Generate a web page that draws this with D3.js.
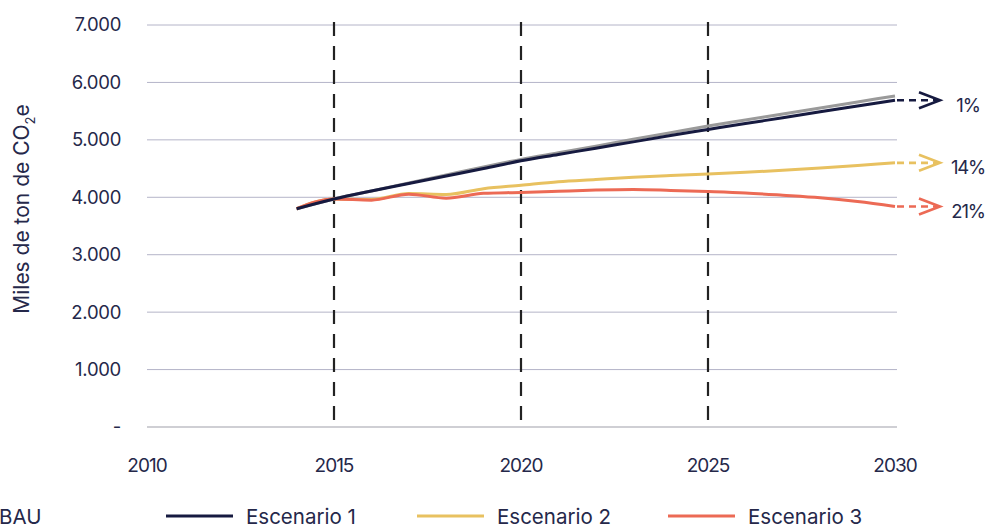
<!DOCTYPE html>
<html><head><meta charset="utf-8">
<script src="https://cdn.jsdelivr.net/npm/d3@7"></script>
<style>body{margin:0;background:#fff;}svg{display:block;font-family:Inter,"Noto Sans",sans-serif;}</style>
</head><body>
<svg id="c" width="987" height="528"></svg>
<script>
const years = [2014,2015,2016,2017,2018,2019,2020,2021,2022,2023,2024,2025,2026,2027,2028,2029,2030];
const bau   = [3800,3970,4110,4250,4390,4530,4660,4775,4890,5010,5125,5240,5345,5450,5555,5660,5765];
const esc1  = [3800,3970,4110,4240,4370,4500,4635,4745,4855,4965,5075,5180,5285,5385,5490,5590,5690];
const esc2  = [3800,3970,3960,4065,4050,4150,4210,4270,4310,4350,4380,4405,4435,4470,4510,4555,4600];
const esc3  = [3800,3970,3950,4055,3985,4070,4085,4105,4125,4135,4120,4100,4075,4035,3990,3925,3840];
const yTicks = [0,1000,2000,3000,4000,5000,6000,7000];
const xTicks = [2010,2015,2020,2025,2030];
const markYears = [2015,2020,2025];
const seriesNames = ["BAU","Escenario 1","Escenario 2","Escenario 3"];
const seriesColors = ["#9a9a9a","#161a40","#e8c160","#ec6a55"];
const reductions = ["","1%","14%","21%"];

const svg = d3.select("#c");
const x = d3.scaleLinear().domain([2010,2030]).range([147,895]);
const y = d3.scaleLinear().domain([0,7000]).range([427,25]);
const textCol = "#25284a";

// gridlines
svg.append("g").selectAll("line").data(yTicks).join("line")
  .attr("x1",147).attr("x2",897)
  .attr("y1",d=>y(d)).attr("y2",d=>y(d))
  .attr("stroke",d=>d===0?"#cfcfd4":"#b4b4c8")
  .attr("stroke-width",d=>d===0?2:1);

// y labels
const fmt = d => d===0 ? "-" : d3.format(",")(d).replace(/,/g,".");
svg.append("g").selectAll("text").data(yTicks).join("text")
  .attr("x",121).attr("y",d=>y(d)).attr("dy","0.35em")
  .attr("text-anchor","end").attr("font-size",18.5).attr("fill",textCol)
  .attr("letter-spacing","-0.3")
  .text(fmt);

// x labels
svg.append("g").selectAll("text").data(xTicks).join("text")
  .attr("x",d=>x(d)).attr("y",465).attr("dy","0.35em")
  .attr("text-anchor","middle").attr("font-size",19).attr("fill",textCol)
  .attr("letter-spacing","-1")
  .text(d=>d);

// y title
const yt = svg.append("text")
  .attr("transform","translate(29,209) rotate(-90)")
  .attr("text-anchor","middle").attr("font-size",21).attr("fill",textCol);
yt.append("tspan").text("Miles de ton de CO");
yt.append("tspan").attr("font-size",13).attr("dy",6).text("2");
yt.append("tspan").attr("dy",-6).text("e");

// vertical dashed lines
svg.append("g").selectAll("line").data(markYears).join("line")
  .attr("x1",d=>x(d)).attr("x2",d=>x(d))
  .attr("y1",22).attr("y2",427)
  .attr("stroke","#222").attr("stroke-width",2.2)
  .attr("stroke-dasharray","14,10");

// series
const data = [bau,esc1,esc2,esc3];
const line = d3.line().x((d,i)=>x(years[i])).y(d=>y(d)).curve(d3.curveMonotoneX);
const order = [0,2,3,1];
svg.append("g").selectAll("path").data(order).join("path")
  .attr("d",i=>line(data[i]))
  .attr("fill","none").attr("stroke",i=>seriesColors[i]).attr("stroke-width",3);

// arrows and reduction labels
[1,2,3].forEach(i=>{
  const yy = y(data[i][data[i].length-1]);
  const g = svg.append("g").attr("stroke",seriesColors[i]).attr("stroke-width",2.6).attr("fill","none");
  g.append("line").attr("x1",897).attr("x2",938).attr("y1",yy).attr("y2",yy).attr("stroke-dasharray","7,5");
  g.append("path").attr("d",`M${919},${yy-8}L${940},${yy}L${919},${yy+8}`);
  svg.append("text").attr("x",968).attr("y",yy+5).attr("dy","0.35em")
    .attr("text-anchor","middle").attr("font-size",18.5).attr("fill",textCol)
    .attr("letter-spacing","-1.2").text(reductions[i]);
});

// legend
const legX = [-85,166,417,668];
seriesNames.forEach((n,i)=>{
  svg.append("line").attr("x1",legX[i]).attr("x2",legX[i]+67).attr("y1",516).attr("y2",516)
    .attr("stroke",seriesColors[i]).attr("stroke-width",3);
  svg.append("text").attr("x",i===0?-1:legX[i]+80).attr("y",524)
    .attr("font-size",20.5).attr("fill",textCol).text(n);
});
</script>
</body></html>
